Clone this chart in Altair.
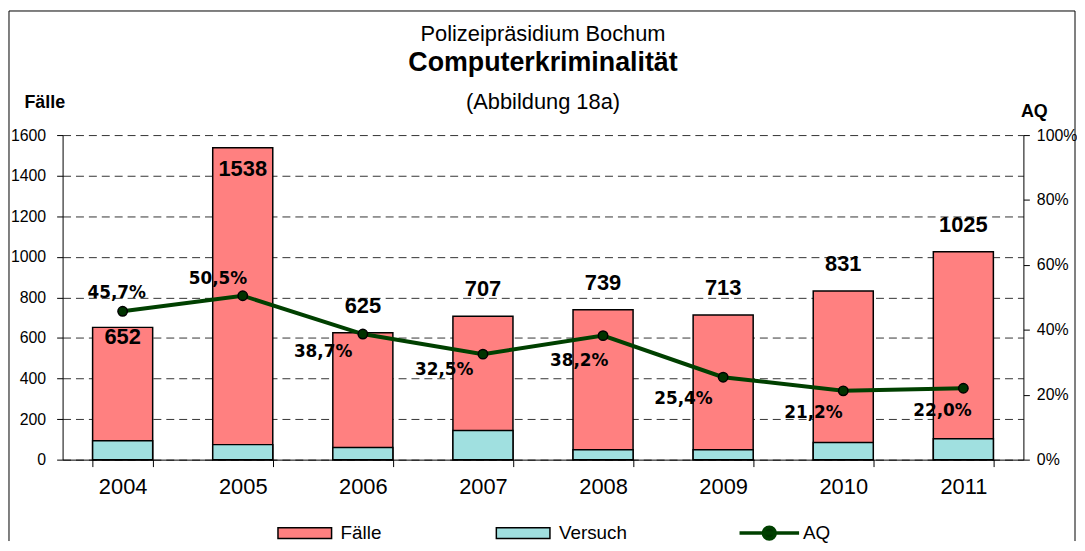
import altair as alt
import pandas as pd

# ---- data ----
years = ['2004', '2005', '2006', '2007', '2008', '2009', '2010', '2011']
faelle = [652, 1538, 625, 707, 739, 713, 831, 1025]
versuch = [93, 74, 60, 144, 49, 49, 85, 103]
aq = [45.7, 50.5, 38.7, 32.5, 38.2, 25.4, 21.2, 22.0]
left_ticks = [0, 200, 400, 600, 800, 1000, 1200, 1400, 1600]
right_ticks = [0, 0.2, 0.4, 0.6, 0.8, 1.0]
title_lines = ['Polizeipräsidium Bochum', 'Computerkriminalität', '(Abbildung 18a)']

df = pd.DataFrame({
    'year': years,
    'Fälle': faelle,
    'Versuch': versuch,
    'AQ': [v / 100 for v in aq],
    'aq_label': [f"{v:.1f}".replace('.', ',') + '%' for v in aq],
    'f_label': [str(v) for v in faelle],
})

W, H = 968, 327
FONT = 'Liberation Sans'

# label placement (styling, relative offsets in px)
bar_label_dy = {'2004': 17, '2005': 29}
bar_label_default_dy = -20
pct_offsets = {
    '2004': (-6, -13), '2005': (-25, -12), '2006': (-40, 23), '2007': (-39, 21),
    '2008': (-24, 31), '2009': (-40, 27), '2010': (-30, 27), '2011': (-21, 28),
}

x_axis = alt.Axis(title=None, labelAngle=0, labelFontSize=22, tickBand='extent',
                  tickSize=7, labelPadding=10, domainColor='black',
                  tickColor='black', labelColor='black', labelFont=FONT)
x_scale = alt.Scale(paddingInner=0.5, paddingOuter=0.25)


def X():
    return alt.X('year:N', scale=x_scale, axis=x_axis)


left_axis = alt.Axis(values=left_ticks, format='d', title='Fälle', titleAngle=0, titleAlign='left',
                     titleX=-39, titleY=-28, titleBaseline='alphabetic', titleFontSize=18,
                     titleFontWeight='bold', titleFont=FONT, titleColor='black',
                     grid=True, gridDash=[8, 5], gridColor='#333333', gridWidth=1,
                     tickSize=6, labelPadding=11, labelFontSize=16, labelFont=FONT,
                     labelColor='black', domainColor='black', tickColor='black')
left_scale = alt.Scale(domain=[0, 1600], nice=False)

right_axis = alt.Axis(orient='right', values=right_ticks, format='.0%', title='AQ',
                      titleAngle=0, titleAlign='left', titleX=-3, titleY=-19,
                      titleBaseline='alphabetic', titleFontSize=18, titleFontWeight='bold',
                      titleFont=FONT, titleColor='black', grid=False, tickSize=6,
                      labelPadding=7, labelFontSize=16, labelFont=FONT,
                      labelColor='black', domainColor='black', tickColor='black')
right_scale = alt.Scale(domain=[0, 1], nice=False)

bars = alt.Chart(df).transform_fold(['Fälle', 'Versuch'], as_=['serie', 'wert']).mark_bar(
    stroke='black', strokeWidth=1.5
).encode(
    x=X(),
    y=alt.Y('wert:Q', stack=None, scale=left_scale, axis=left_axis),
    fill=alt.Fill('serie:N',
                  scale=alt.Scale(domain=['Fälle', 'Versuch'], range=['#FF8080', '#A0E0E0']),
                  legend=alt.Legend(title=None, orient='none', legendX=216, legendY=373,
                                    direction='horizontal',
                                    symbolType='M-1,-0.2H1V0.2H-1Z', symbolSize=2916,
                                    symbolStrokeColor='black', symbolStrokeWidth=1.5,
                                    labelFontSize=19, labelFont=FONT, labelColor='black',
                                    labelOffset=8, columnPadding=112, padding=0)),
)

left_layers = [bars]

# bar value labels
special = list(bar_label_dy.keys())
left_layers.append(
    alt.Chart(df).transform_filter(
        ~alt.FieldOneOfPredicate(field='year', oneOf=special)
    ).mark_text(font=FONT, fontSize=22, fontWeight='bold', baseline='alphabetic',
                dy=bar_label_default_dy, color='black').encode(
        x=X(), y=alt.Y('Fälle:Q', scale=left_scale, axis=left_axis), text='f_label:N')
)
for yr, dy in bar_label_dy.items():
    left_layers.append(
        alt.Chart(df).transform_filter(alt.FieldEqualPredicate(field='year', equal=yr))
        .mark_text(font=FONT, fontSize=22, fontWeight='bold', baseline='alphabetic',
                   dy=dy, color='black').encode(
            x=X(), y=alt.Y('Fälle:Q', scale=left_scale, axis=left_axis), text='f_label:N')
    )

# titles
title_df = pd.DataFrame({'t': title_lines})
title_specs = [(0, -95, 22, 'normal'), (1, -65, 27, 'bold'), (2, -26, 22, 'normal')]
for idx, yy, fs, fw in title_specs:
    left_layers.append(
        alt.Chart(title_df).transform_filter(alt.FieldEqualPredicate(field='t', equal=title_lines[idx]))
        .mark_text(font=FONT, fontSize=fs, fontWeight=fw, baseline='alphabetic', align='center',
                   color='black')
        .encode(x=alt.value(W / 2), y=alt.value(yy), text='t:N')
    )

# outer frame (open at the bottom, as cropped in the reference)
one = pd.DataFrame({'f': [0]})
FL, FR, FT, FB = -54, 1020, -125, 409
left_layers.append(alt.Chart(one).mark_rule(color='black', strokeWidth=1).encode(
    x=alt.value(FL), y=alt.value(FT), y2=alt.value(FB)))
left_layers.append(alt.Chart(one).mark_rule(color='black', strokeWidth=1).encode(
    x=alt.value(FR), y=alt.value(FT), y2=alt.value(FB)))
left_layers.append(alt.Chart(one).mark_rule(color='black', strokeWidth=1).encode(
    x=alt.value(FL), x2=alt.value(FR), y=alt.value(FT)))

left = alt.layer(*left_layers)

# right axis: AQ line
line = alt.Chart(df).transform_calculate(serie2='"AQ"').mark_line(strokeWidth=4).encode(
    x=X(),
    y=alt.Y('AQ:Q', scale=right_scale, axis=right_axis),
    stroke=alt.Stroke('serie2:N', scale=alt.Scale(domain=['AQ'], range=['#004000']),
                      legend=alt.Legend(title=None, orient='none', legendX=680, legendY=369,
                                        symbolType='M-1,0H1M0.2,0A0.2,0.2,0,1,1,-0.2,0A0.2,0.2,0,1,1,0.2,0Z',
                                        symbolSize=3600, symbolStrokeWidth=3.5,
                                        symbolFillColor='#003300',
                                        labelFontSize=19, labelFont=FONT, labelColor='black',
                                        labelOffset=2, padding=0)),
)
points = alt.Chart(df).mark_point(filled=True, size=90, fill='#003300', stroke='black',
                                  strokeWidth=1.5, opacity=1).encode(
    x=X(), y=alt.Y('AQ:Q', scale=right_scale, axis=right_axis))

right_layers = [line, points]
for yr, (dx, dy) in pct_offsets.items():
    right_layers.append(
        alt.Chart(df).transform_filter(alt.FieldEqualPredicate(field='year', equal=yr))
        .mark_text(font='DejaVu Sans', fontSize=17, fontWeight='bold', baseline='alphabetic',
                   align='center', dx=dx, dy=dy, color='black')
        .encode(x=X(), y=alt.Y('AQ:Q', scale=right_scale, axis=right_axis), text='aq_label:N')
    )
right = alt.layer(*right_layers)

chart = alt.layer(left, right).resolve_scale(y='independent').properties(
    width=W, height=H, padding=0, background='white'
).configure_view(stroke=None)

chart.save("out.html", embed_options={"renderer": "svg", "actions": False})
